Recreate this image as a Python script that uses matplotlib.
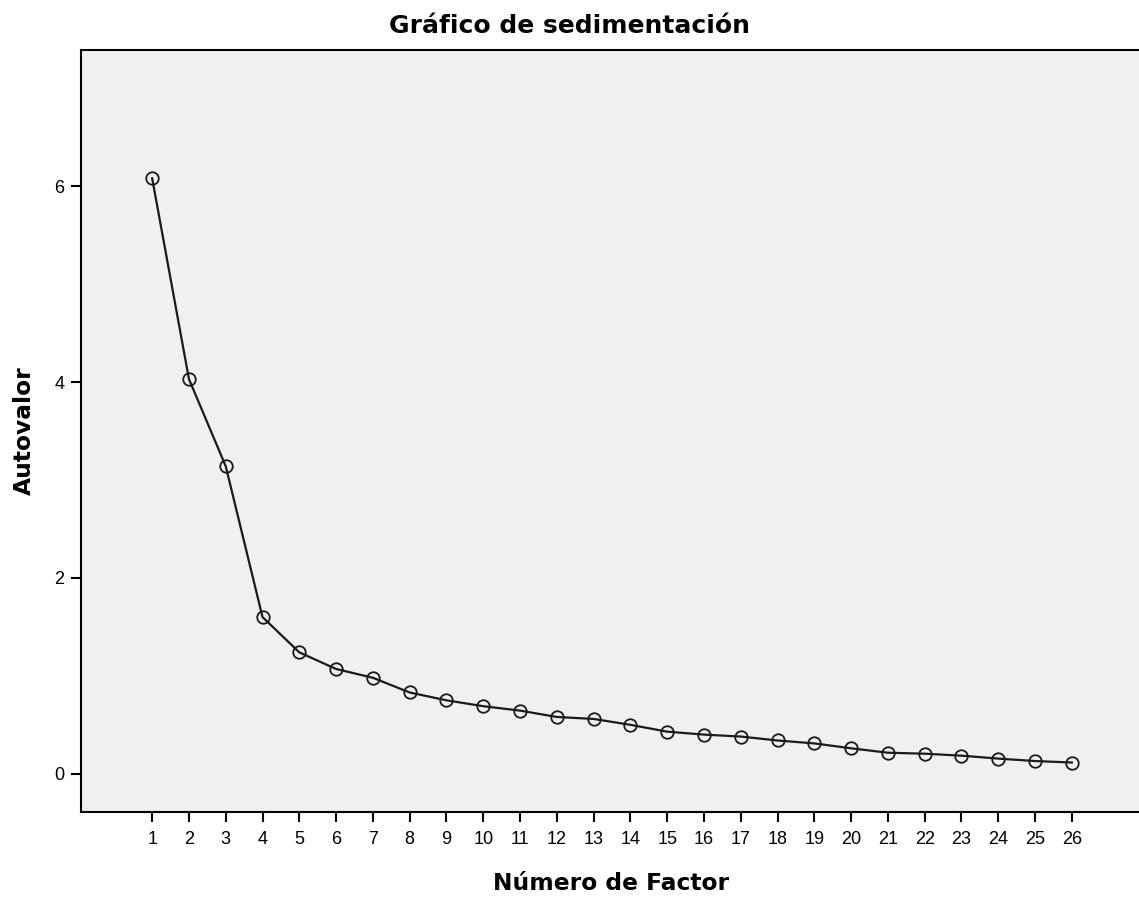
import matplotlib.pyplot as plt

plt.rcParams['font.family'] = ['Liberation Sans', 'DejaVu Sans']

factores = list(range(1, 27))
autovalores = [6.08, 4.03, 3.14, 1.60, 1.24, 1.07, 0.98, 0.83, 0.75, 0.69,
               0.645, 0.58, 0.56, 0.50, 0.43, 0.40, 0.38, 0.34, 0.31, 0.26,
               0.215, 0.205, 0.185, 0.155, 0.13, 0.115]
y_ticks = [0, 2, 4, 6]

fig = plt.figure(figsize=(11.39, 8.98), dpi=100)
ax = fig.add_axes([0.0711, 0.0958, 0.93, 0.8485])
ax.set_facecolor('#f0f0f0')

ax.plot(factores, autovalores, color='#1a1a1a', linewidth=1.6,
        marker='o', markersize=9, markerfacecolor='none',
        markeredgecolor='#1a1a1a', markeredgewidth=1.3)

ax.set_xlim(-0.935, 27.86)
ax.set_ylim(-0.39, 7.39)
ax.set_xticks(factores)
ax.set_yticks(y_ticks)
ax.tick_params(direction='out', length=7, width=1.5, labelsize=13, colors='black')
ax.tick_params(axis='x', pad=7)
ax.tick_params(axis='y', pad=5)

for s in ['left', 'bottom', 'top']:
    ax.spines[s].set_linewidth(1.5)
ax.spines['right'].set_visible(False)

fig.text(0.5, 0.971, 'Gráfico de sedimentación', fontsize=18,
         fontweight='bold', family='DejaVu Sans', ha='center', va='center')
ax.set_xlabel('Número de Factor', fontsize=16.8, fontweight='bold',
              family='DejaVu Sans', labelpad=17)
ax.set_ylabel('Autovalor', fontsize=16.8, fontweight='bold',
              family='DejaVu Sans', labelpad=13)

fig.savefig('out.png', dpi=100)
